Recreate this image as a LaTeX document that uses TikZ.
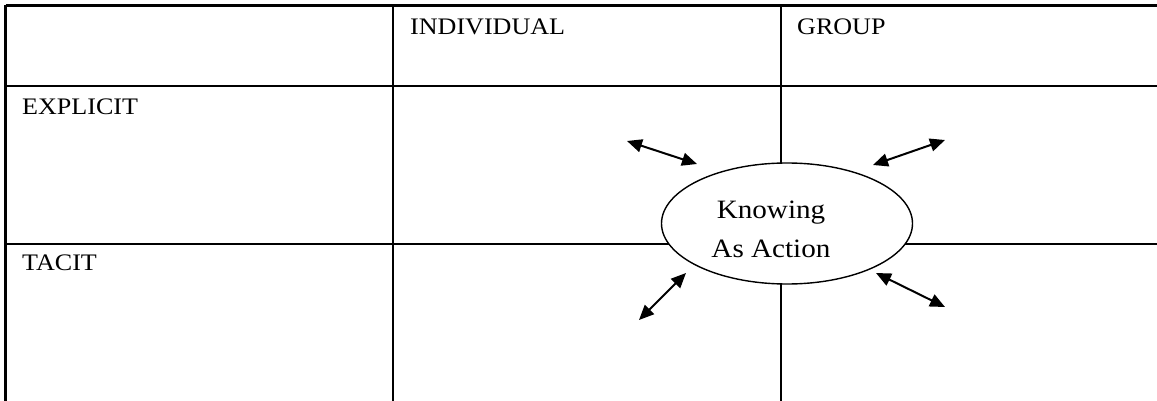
\documentclass[tikz,border=0pt]{standalone}
\usepackage{fontspec}
\setmainfont{Liberation Serif}[FakeStretch=1.1]
\usepackage{tikz}
\usetikzlibrary{shapes.geometric,arrows.meta}
\begin{document}
\begin{tikzpicture}[x=1pt,y=-1pt,
  rule/.style={line width=2.4pt},
  cell/.style={anchor=base west,inner sep=0pt,font=\fontsize{23.7}{28}\selectfont},
  bubble/.style={ellipse,draw,fill=white,line width=1.4pt,minimum width=251pt,minimum height=121pt,inner sep=0pt},
  twoway/.style={line width=2pt,{Triangle[length=15pt,width=13pt]}-{Triangle[length=15pt,width=13pt]}}
]
\useasboundingbox[fill=white] (0,0) rectangle (1157,401);

% table grid (open on the right and at the bottom)
\coordinate (tl) at (5.5,5.5);
\coordinate (tr) at (1157,5.5);
\coordinate (bl) at (5.5,401);
\coordinate (h1l) at (5.5,86);
\coordinate (h1r) at (1157,86);
\coordinate (h2l) at (5.5,244);
\coordinate (h2r) at (1157,244);
\coordinate (v1t) at (393,5.5);
\coordinate (v1b) at (393,401);
\coordinate (v2t) at (781,5.5);
\coordinate (v2b) at (781,401);
\draw[rule] (tl) -- (tr);
\draw[rule] (tl) -- (bl);
\draw[rule] (h1l) -- (h1r);
\draw[rule] (h2l) -- (h2r);
\draw[rule] (v1t) -- (v1b);
\draw[rule] (v2t) -- (v2b);

% headings
\node[cell] (ind) at (410,35) {INDIVIDUAL};
\node[cell] (grp) at (797,35) {GROUP};
\node[cell] (exp) at (22,115) {EXPLICIT};
\node[cell] (tac) at (22,270) {TACIT};

% central ellipse
\node[bubble] (kaa) at (787,223.5) {};
\node[align=center,inner sep=0pt,font=\fontsize{26.5}{39}\selectfont] (kaatext) at (771,229) {Knowing\\As Action};

% two-way arrows around the ellipse
\coordinate (a1s) at (627,141);
\coordinate (a1e) at (697,164);
\coordinate (a2s) at (873,165);
\coordinate (a2e) at (945,140);
\coordinate (a3s) at (686,273);
\coordinate (a3e) at (639,320);
\coordinate (a4s) at (876,273);
\coordinate (a4e) at (945,307);
\draw[twoway] (a1s) -- (a1e);
\draw[twoway] (a2s) -- (a2e);
\draw[twoway] (a3s) -- (a3e);
\draw[twoway] (a4s) -- (a4e);
\end{tikzpicture}
\end{document}
